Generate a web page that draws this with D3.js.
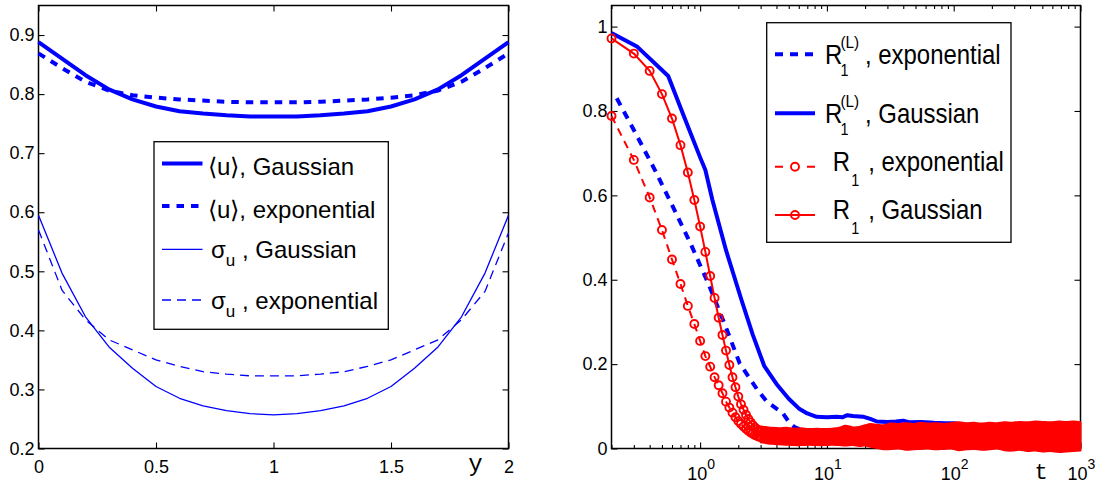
<!DOCTYPE html>
<html>
<head>
<meta charset="utf-8">
<script src="https://cdn.jsdelivr.net/npm/d3@7"></script>
<style>
  html, body { margin: 0; padding: 0; background: #fff; }
  svg { display: block; }
  text { font-family: "Liberation Sans", Arial, Helvetica, sans-serif; fill: #000; }
  .axis path.domain { display: none; }
  .axis line { stroke: #000; stroke-width: 1.1; }
  .axis text { font-size: 18px; }
</style>
</head>
<body>
<svg id="fig" width="1101" height="484"></svg>
<script>
// ---------------- left panel: mean velocity and its spread across the channel ----------------
const yGrid = [0, 0.1, 0.2, 0.3, 0.4, 0.5, 0.6, 0.7, 0.8, 0.9, 1.0, 1.1, 1.2, 1.3, 1.4, 1.5, 1.6, 1.7, 1.8, 1.9, 2.0];
const meanGaussian = [0.888, 0.860, 0.832, 0.808, 0.791, 0.779, 0.771, 0.767, 0.764, 0.762, 0.762,
                      0.762, 0.764, 0.767, 0.771, 0.779, 0.791, 0.808, 0.832, 0.860, 0.888];
const meanExponential = [0.869, 0.844, 0.821, 0.806, 0.798, 0.794, 0.791, 0.789, 0.787, 0.786, 0.786,
                         0.786, 0.787, 0.789, 0.791, 0.794, 0.798, 0.806, 0.821, 0.844, 0.869];
const sigmaGaussian = [0.595, 0.497, 0.423, 0.372, 0.336, 0.305, 0.285, 0.272, 0.264, 0.259, 0.257,
                       0.259, 0.264, 0.272, 0.285, 0.305, 0.336, 0.372, 0.423, 0.497, 0.595];
const sigmaExponential = [0.570, 0.468, 0.418, 0.384, 0.367, 0.350, 0.339, 0.330, 0.326, 0.323, 0.323,
                          0.323, 0.326, 0.330, 0.339, 0.350, 0.367, 0.384, 0.418, 0.466, 0.565];
const leftXTicks = [0, 0.5, 1, 1.5, 2];
const leftYTicks = [0.2, 0.3, 0.4, 0.5, 0.6, 0.7, 0.8, 0.9];

// ---------------- right panel: correlation decay in time ----------------
const tLinGauss = [0.2, 0.32, 0.56, 0.75, 1.0, 1.1, 1.25, 1.6, 2.12, 2.6, 3.2, 4.0, 5.0, 6.0, 7.0, 8.3, 10, 12,
                   13.2, 14.5, 16, 18, 19.5, 22, 24.8, 30, 35, 40, 45, 55, 70, 85, 100, 120, 200, 500, 1000];
const rLinGauss = [0.985, 0.952, 0.883, 0.785, 0.69, 0.66, 0.589, 0.47, 0.352, 0.27, 0.196, 0.153, 0.118, 0.095,
                   0.083, 0.075, 0.074, 0.075, 0.074, 0.079, 0.077, 0.076, 0.075, 0.070, 0.064, 0.063, 0.064,
                   0.066, 0.062, 0.063, 0.061, 0.060, 0.060, 0.057, 0.054, 0.050, 0.045];
const tLinExp = [0.22, 0.30, 0.44, 0.61, 0.84, 1.16, 1.59, 2.05, 2.83, 3.36, 4.15, 4.5, 5.1, 5.6, 6.5, 8, 12,
                 20, 50, 100, 300, 1000];
const rLinExp = [0.83, 0.755, 0.66, 0.573, 0.486, 0.391, 0.289, 0.202, 0.139, 0.111, 0.091, 0.083, 0.06, 0.05,
                 0.043, 0.04, 0.038, 0.037, 0.036, 0.036, 0.035, 0.035];
// R1 sampled every 0.1 time units up to t = 3
const tSample = [0.2, 0.3, 0.4, 0.5, 0.6, 0.7, 0.8, 0.9, 1.0, 1.1, 1.2, 1.3, 1.4, 1.5, 1.6, 1.7, 1.8, 1.9,
                 2.0, 2.1, 2.2, 2.3, 2.4, 2.5, 2.6, 2.7, 2.8, 2.9, 3.0];
const r1Exp = [0.788, 0.684, 0.595, 0.518, 0.448, 0.390, 0.338, 0.295, 0.255, 0.219, 0.194, 0.169, 0.150, 0.131,
               0.111, 0.097, 0.085, 0.074, 0.065, 0.058, 0.052, 0.047, 0.042, 0.038, 0.035, 0.032, 0.030, 0.028, 0.027];
const r1Gauss = [0.972, 0.936, 0.895, 0.840, 0.782, 0.719, 0.654, 0.589, 0.526, 0.466, 0.409, 0.357, 0.310, 0.269,
                 0.232, 0.198, 0.169, 0.145, 0.123, 0.105, 0.092, 0.080, 0.070, 0.062, 0.055, 0.050, 0.046, 0.042, 0.040];
// beyond t = 3 the densely packed R1 samples of both runs form one band: lower and upper edge
const tailT = [3.0, 3.3, 3.7, 4.2, 4.8, 5.5, 6.3, 7.2, 8.3, 9.5, 11, 12.5, 14, 16, 18, 20, 22, 25, 28, 32, 37, 42,
               48, 55, 63, 72, 83, 95, 110, 125, 145, 165, 190, 220, 250, 290, 330, 380, 440, 500, 580, 670, 770, 880, 1000];
const tailHi = [0.052, 0.051, 0.049, 0.048, 0.049, 0.047, 0.048, 0.046, 0.047, 0.046, 0.047, 0.049, 0.054, 0.050,
                0.051, 0.055, 0.058, 0.056, 0.055, 0.059, 0.058, 0.060, 0.058, 0.061, 0.059, 0.060, 0.058, 0.060,
                0.062, 0.060, 0.061, 0.059, 0.061, 0.060, 0.062, 0.061, 0.063, 0.062, 0.064, 0.063, 0.062, 0.064,
                0.063, 0.064, 0.062];
const tailLo = [0.015, 0.013, 0.011, 0.010, 0.009, 0.008, 0.008, 0.009, 0.008, 0.008, 0.009, 0.008, 0.007, 0.008,
                0.006, 0.007, 0.004, 0.001, -0.002, -0.001, 0.000, -0.003, -0.002, -0.001, 0.000, -0.002, -0.001,
                0.000, -0.004, -0.002, -0.001, -0.003, -0.002, 0.000, -0.004, -0.005, -0.003, -0.006, -0.005,
                -0.007, -0.006, -0.008, -0.007, -0.006, -0.005];
const rightYTicks = [0, 0.2, 0.4, 0.6, 0.8, 1];
const rightXTicks = [1, 10, 100, 1000];

const BLUE = "#0000ff", RED = "#ff0000";
const svg = d3.select("#fig");

// ---------- scales ----------
const xL = d3.scaleLinear().domain([0, 2]).range([38.5, 508.5]);
const yL = d3.scaleLinear().domain([0.2, 0.95]).range([448.5, 5.5]);
const xR = d3.scaleLog().domain([0.2, 1000]).range([611.5, 1080.5]);
const yR = d3.scaleLinear().domain([0, 1.05]).range([448.5, 5.5]);

// ---------- axes helper: ticks pointing inward on all four sides ----------
function boxAxes(x, y, xTicks, yTicks, xFmt, yFmt, minorX) {
  const [x0, x1] = x.range(), [y0, y1] = y.range();
  const g = svg.append("g");
  g.append("g").attr("class", "axis").attr("transform", `translate(0,${y0})`)
    .call(d3.axisBottom(x).tickValues(xTicks).tickSize(-6).tickPadding(12).tickFormat(xFmt));
  g.append("g").attr("class", "axis").attr("transform", `translate(0,${y1})`)
    .call(d3.axisTop(x).tickValues(xTicks).tickSize(-6).tickFormat(""));
  g.append("g").attr("class", "axis").attr("transform", `translate(${x0},0)`)
    .call(d3.axisLeft(y).tickValues(yTicks).tickSize(-6).tickPadding(4).tickFormat(yFmt));
  g.append("g").attr("class", "axis").attr("transform", `translate(${x1},0)`)
    .call(d3.axisRight(y).tickValues(yTicks).tickSize(-6).tickFormat(""));
  if (minorX) {
    g.append("g").attr("class", "axis").attr("transform", `translate(0,${y0})`)
      .call(d3.axisBottom(x).tickValues(minorX).tickSize(-3.5).tickFormat(""));
    g.append("g").attr("class", "axis").attr("transform", `translate(0,${y1})`)
      .call(d3.axisTop(x).tickValues(minorX).tickSize(-3.5).tickFormat(""));
  }
  g.append("rect").attr("x", x0).attr("y", y1).attr("width", x1 - x0).attr("height", y0 - y1)
    .attr("fill", "none").attr("stroke", "#000").attr("stroke-width", 1.5);
  return g;
}

// text that is slightly condensed horizontally
function narrowText(g, x, y, str, size, sx) {
  return g.append("text").attr("transform", `translate(${x},${y}) scale(${sx},1)`)
    .style("font-size", size + "px").text(str);
}

// =================== LEFT PANEL ===================
boxAxes(xL, yL, leftXTicks, leftYTicks, d3.format(""), d3.format(".1f"), null);
svg.append("text").attr("x", 475.5).attr("y", 471).attr("text-anchor", "middle")
  .style("font-family", '"Liberation Mono", "DejaVu Sans Mono", monospace').style("font-size", "24px").text("y");

const lineL = (vals) => d3.line().x((d, i) => xL(yGrid[i])).y(d => yL(d))(vals);
const leftSeries = [
  { vals: meanGaussian,     w: 4,   dash: null },
  { vals: meanExponential,  w: 4,   dash: "7.5,7" },
  { vals: sigmaGaussian,    w: 1.3, dash: null },
  { vals: sigmaExponential, w: 1.3, dash: "9,6" }
];
const gLeft = svg.append("g");
leftSeries.forEach(s => {
  gLeft.append("path").attr("d", lineL(s.vals)).attr("fill", "none").attr("stroke", BLUE)
    .attr("stroke-width", s.w).attr("stroke-dasharray", s.dash).attr("stroke-linejoin", "round");
});

// legend (left)
const legL = svg.append("g");
legL.append("rect").attr("x", 154).attr("y", 141.7).attr("width", 234.3).attr("height", 187.6)
  .attr("fill", "#fff").attr("stroke", "#000").attr("stroke-width", 1.3);
const leftLegend = [
  { y: 163.5, s: leftSeries[0], kind: "mean", label: ", Gaussian" },
  { y: 206,   s: leftSeries[1], kind: "mean", label: ", exponential" },
  { y: 249.3, s: leftSeries[2], kind: "sigma", label: " , Gaussian" },
  { y: 300,   s: leftSeries[3], kind: "sigma", label: " , exponential" }
];
leftLegend.forEach(e => {
  legL.append("line").attr("x1", 162).attr("x2", 202.5).attr("y1", e.y).attr("y2", e.y)
    .attr("stroke", BLUE).attr("stroke-width", e.s.w).attr("stroke-dasharray", e.s.dash);
  if (e.kind === "mean") {
    legL.append("text").attr("x", 208).attr("y", e.y + 11.5).style("font-size", "24px")
      .text("\u27E8u\u27E9" + e.label);
  } else {
    const t = legL.append("text").attr("x", 211).attr("y", e.y + 8.5).style("font-size", "24px");
    t.append("tspan").text("\u03C3");
    t.append("tspan").attr("dy", 8.5).style("font-size", "17px").text("u");
    t.append("tspan").attr("dy", -8.5).text(e.label);
  }
});

// =================== RIGHT PANEL ===================
const minorR = xR.ticks().filter(v => rightXTicks.indexOf(v) < 0);
boxAxes(xR, yR, rightXTicks, rightYTicks, () => "", d3.format(""), minorR);
// decade labels 10^k
rightXTicks.forEach(v => {
  const t = svg.append("text").attr("x", xR(v) + 1).attr("y", 480.3).attr("text-anchor", "middle")
    .style("font-size", "18px");
  t.append("tspan").text("10");
  t.append("tspan").attr("dy", -11).style("font-size", "14px").text(String(Math.round(Math.log10(v))));
});
svg.append("text").attr("x", 1041).attr("y", 478.5).attr("text-anchor", "middle")
  .style("font-family", '"Liberation Mono", "DejaVu Sans Mono", monospace').style("font-size", "22px").text("t");

const gRight = svg.append("g");
const lineR = (ts, vs) => d3.line().x((d, i) => xR(ts[i])).y(d => yR(d))(vs);
// R1^(L), exponential
gRight.append("path").attr("d", lineR(tLinExp, rLinExp)).attr("fill", "none").attr("stroke", BLUE)
  .attr("stroke-width", 4).attr("stroke-dasharray", "8,7");
// R1^(L), Gaussian
gRight.append("path").attr("d", lineR(tLinGauss, rLinGauss)).attr("fill", "none").attr("stroke", BLUE)
  .attr("stroke-width", 4).attr("stroke-linejoin", "round");
// R1, exponential
gRight.append("path").attr("d", lineR(tSample, r1Exp)).attr("fill", "none").attr("stroke", RED)
  .attr("stroke-width", 2).attr("stroke-dasharray", "8,6");
gRight.selectAll("circle.re").data(r1Exp).join("circle").attr("class", "re")
  .attr("cx", (d, i) => xR(tSample[i])).attr("cy", d => yR(d)).attr("r", 4)
  .attr("fill", "none").attr("stroke", RED).attr("stroke-width", 1.9);
// R1, Gaussian
gRight.append("path").attr("d", lineR(tSample, r1Gauss)).attr("fill", "none").attr("stroke", RED)
  .attr("stroke-width", 2);
gRight.selectAll("circle.rg").data(r1Gauss).join("circle").attr("class", "rg")
  .attr("cx", (d, i) => xR(tSample[i])).attr("cy", d => yR(d)).attr("r", 4)
  .attr("fill", "none").attr("stroke", RED).attr("stroke-width", 1.9);
// dense late-time samples
gRight.append("path")
  .attr("d", d3.area().curve(d3.curveCatmullRom)
    .x((d, i) => xR(tailT[i])).y0((d, i) => yR(tailLo[i])).y1(d => yR(d))(tailHi))
  .attr("fill", RED).attr("stroke", RED).attr("stroke-width", 2).attr("stroke-linejoin", "round");

// legend (right)
const legR = svg.append("g");
legR.append("rect").attr("x", 766.7).attr("y", 22.7).attr("width", 244.3).attr("height", 219.6)
  .attr("fill", "#fff").attr("stroke", "#000").attr("stroke-width", 1.3);
const rightLegend = [
  { y: 54.3,  color: BLUE, w: 4, dash: "8,7",  marker: false, sup: true,  rx: 825,   label: ", exponential" },
  { y: 113.3, color: BLUE, w: 4, dash: null,   marker: false, sup: true,  rx: 825,   label: ", Gaussian" },
  { y: 166.7, color: RED,  w: 2, dash: "8,24", marker: true,  sup: false, rx: 832.7, label: ", exponential" },
  { y: 215,   color: RED,  w: 2, dash: null,   marker: true,  sup: false, rx: 832.7, label: ", Gaussian" }
];
const SX = 0.87, FS = 27.5;
rightLegend.forEach(e => {
  legR.append("line").attr("x1", 775).attr("x2", 815).attr("y1", e.y).attr("y2", e.y)
    .attr("stroke", e.color).attr("stroke-width", e.w).attr("stroke-dasharray", e.dash);
  if (e.marker) legR.append("circle").attr("cx", 795).attr("cy", e.y).attr("r", 4)
    .attr("fill", "none").attr("stroke", RED).attr("stroke-width", 1.9);
  if (e.sup) {
    const base = e.y + 9.5;
    narrowText(legR, e.rx, base, "R", FS, SX);
    narrowText(legR, e.rx + 15.5, base - 16, "(L)", 17, 0.9);
    narrowText(legR, e.rx + 15.5, base + 12, "1", 16, 0.9);
    narrowText(legR, e.rx + 40, base, e.label, FS, SX);
  } else {
    const base = e.y + 4.3;
    narrowText(legR, e.rx, base, "R", FS, SX);
    narrowText(legR, e.rx + 18.5, base + 14.5, "1", 16, 0.9);
    narrowText(legR, e.rx + 35.5, base, e.label, FS, SX);
  }
});
</script>
</body>
</html>
